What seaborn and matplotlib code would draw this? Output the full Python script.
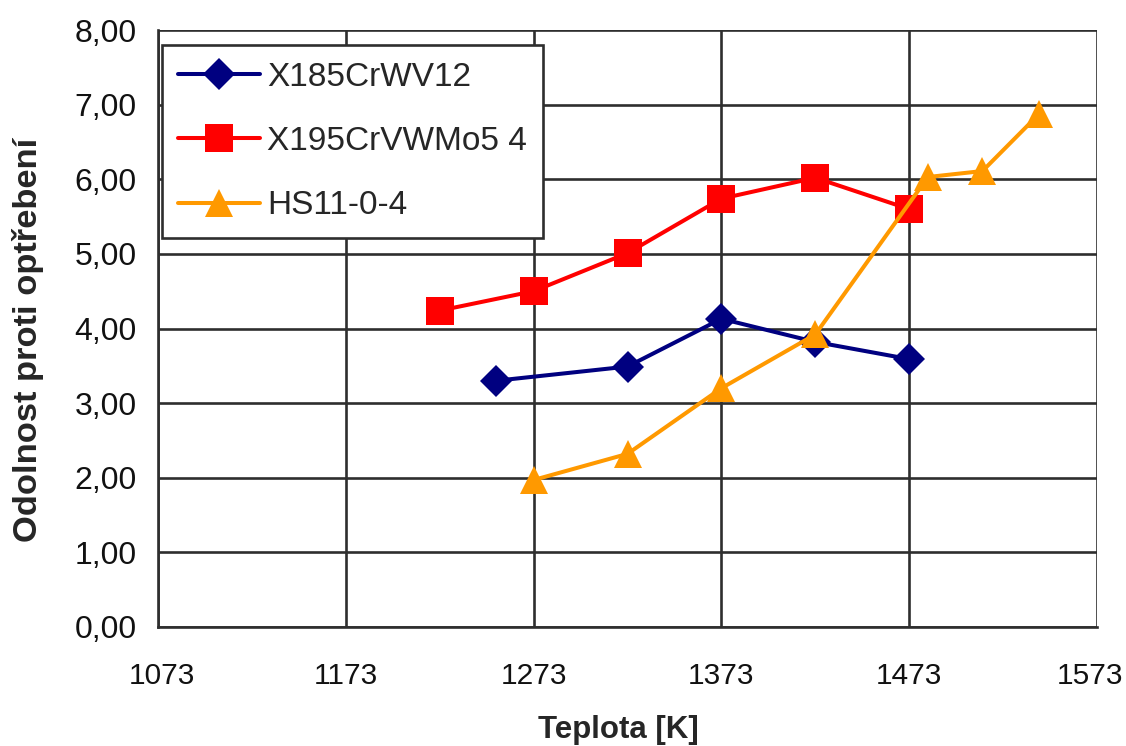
import matplotlib
matplotlib.use("Agg")
import matplotlib.pyplot as plt
import matplotlib.transforms as mtransforms
import seaborn as sns
import pandas as pd
from matplotlib.ticker import FuncFormatter

# Data
series_names = ["X185CrWV12", "X195CrVWMo5 4", "HS11-0-4"]
temp_x185 = [1253, 1323, 1373, 1423, 1473]
val_x185 = [3.30, 3.49, 4.13, 3.82, 3.59]
temp_x195 = [1223, 1273, 1323, 1373, 1423, 1473]
val_x195 = [4.24, 4.50, 5.01, 5.74, 6.02, 5.60]
temp_hs = [1273, 1323, 1373, 1423, 1483, 1512, 1542]
val_hs = [1.97, 2.32, 3.20, 3.92, 6.03, 6.11, 6.87]
x_ticks = [1073, 1173, 1273, 1373, 1473, 1573]
y_ticks = [0, 1, 2, 3, 4, 5, 6, 7, 8]

rows = []
for name, xs, ys in [(series_names[0], temp_x185, val_x185),
                     (series_names[1], temp_x195, val_x195),
                     (series_names[2], temp_hs, val_hs)]:
    for x, y in zip(xs, ys):
        rows.append({"Teplota": x, "Hodnota": y, "Serie": name})
df = pd.DataFrame(rows)

sns.set_style("white")
plt.rcParams['font.family'] = ['Liberation Sans', 'DejaVu Sans']

fig = plt.figure(figsize=(11.26, 7.46), dpi=100)
ax = fig.add_axes([158/1126, (746-627)/746, 939/1126, 597/746])

palette = {series_names[0]: "#000080", series_names[1]: "#FF0000", series_names[2]: "#FF9900"}
markers = {series_names[0]: "D", series_names[1]: "s", series_names[2]: "^"}
sizes_ms = {series_names[0]: 16, series_names[1]: 20, series_names[2]: 20}

for name in series_names:
    sub = df[df["Serie"] == name]
    sns.lineplot(data=sub, x="Teplota", y="Hodnota", ax=ax, color=palette[name],
                 marker=markers[name], markersize=sizes_ms[name], markeredgewidth=0,
                 linewidth=2.9, label=name, zorder=3)

ax.set_xlim(1073, 1573)
ax.set_ylim(0, 8)
ax.set_xticks(x_ticks)
ax.set_yticks(y_ticks)
ax.yaxis.set_major_formatter(FuncFormatter(lambda v, p: f"{v:.2f}".replace(".", ",")))
ax.grid(True, color="#2e2e2e", linewidth=1.9, zorder=0)
ax.set_axisbelow(True)
for s in ["left", "bottom", "top", "right"]:
    ax.spines[s].set_color("#2e2e2e")
    ax.spines[s].set_linewidth(1.9)
ax.spines["top"].set_visible(False)
ax.spines["right"].set_visible(False)
ax.tick_params(axis="both", direction="out", width=1.9, color="#2e2e2e",
               labelcolor="#111111")
ax.tick_params(axis="y", length=8, pad=7.5, labelsize=23)
ax.tick_params(axis="x", length=9, pad=16, labelsize=21.5)

# Slight horizontal nudges of the end labels (as in the reference)
xlabels = ax.get_xticklabels()
xlabels[0].set_transform(xlabels[0].get_transform() +
                         mtransforms.ScaledTranslation(4/100, 0, fig.dpi_scale_trans))
xlabels[-1].set_transform(xlabels[-1].get_transform() +
                          mtransforms.ScaledTranslation(-7/100, 0, fig.dpi_scale_trans))

ax.set_xlabel("Teplota [K]", fontsize=22.5, fontweight="bold")
ax.set_ylabel("Odolnost proti opt\u0159eben\u00ed", fontsize=24.8, fontweight="bold")
ax.xaxis.set_label_coords(0.49, -0.147)
ax.yaxis.set_label_coords(-0.1214, 0.481)

handles, labels = ax.get_legend_handles_labels()
leg = ax.legend(handles, labels, loc="upper left", bbox_to_anchor=(0.004, 0.975),
                borderaxespad=0, fontsize=24, frameon=True, fancybox=False,
                edgecolor="#2e2e2e", framealpha=1, handlelength=2.45,
                labelspacing=1.0, borderpad=0.5, handletextpad=0.2)
leg.get_frame().set_linewidth(1.9)
leg.set_zorder(5)

fig.savefig("out.png", dpi=100, facecolor="white")
